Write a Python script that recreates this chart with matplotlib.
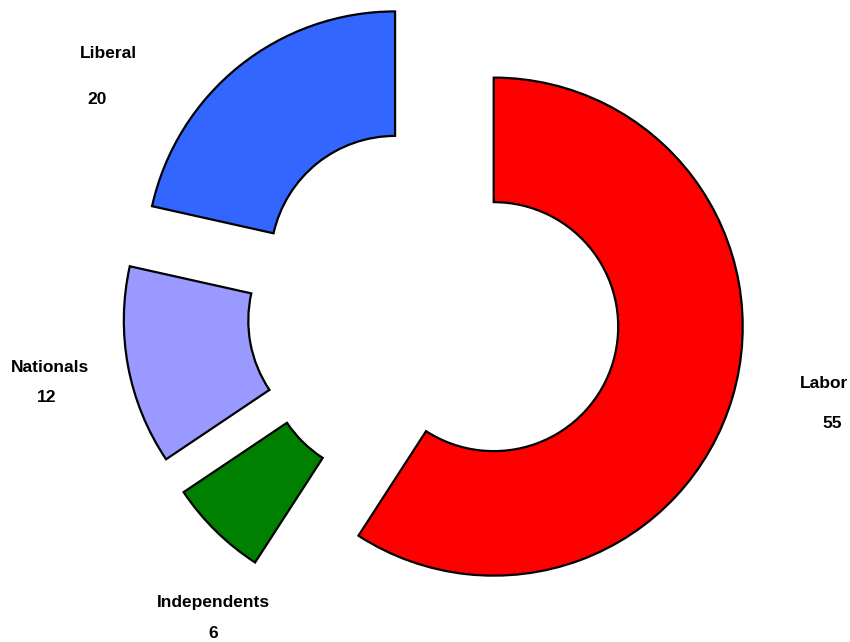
import matplotlib
matplotlib.use("Agg")
import matplotlib.pyplot as plt

parties = ["Labor", "Independents", "Nationals", "Liberal"]
seats = [55, 6, 12, 20]
colors = ["#ff0000", "#008000", "#9999ff", "#3366ff"]

# label positions in pixels (centre of text), name then value
name_pos = {"Labor": (824, 384), "Independents": (213, 602),
            "Nationals": (50, 368), "Liberal": (108, 54)}
value_pos = {"Labor": (832, 423), "Independents": (213, 634),
             "Nationals": (47, 398), "Liberal": (97, 100)}

plt.rcParams["font.family"] = ["Liberation Sans", "DejaVu Sans"]

W, H = 850, 642
fig = plt.figure(figsize=(W / 100, H / 100), dpi=100)
ax = fig.add_axes([0, 0, 1, 1])

cx, cy, R = 434, 309, 249
ax.set_xlim(-cx / R, (W - cx) / R)
ax.set_ylim(-(H - cy) / R, cy / R)
ax.axis("off")

ax.pie(seats, colors=colors, startangle=90, counterclock=False,
       explode=[0.25] * len(seats), radius=1,
       wedgeprops=dict(width=0.5, edgecolor="black", linewidth=1.6))
ax.set_xlim(-cx / R, (W - cx) / R)
ax.set_ylim(-(H - cy) / R, cy / R)
ax.set_aspect("auto")

for p, v in zip(parties, seats):
    x, y = name_pos[p]
    ax.text(x / W, 1 - y / H, p, transform=ax.transAxes, ha="center",
            va="center", fontsize=12.5, fontweight="bold")
    x, y = value_pos[p]
    ax.text(x / W, 1 - y / H, str(v), transform=ax.transAxes, ha="center",
            va="center", fontsize=12.5, fontweight="bold")

fig.savefig("out.png", dpi=100)
